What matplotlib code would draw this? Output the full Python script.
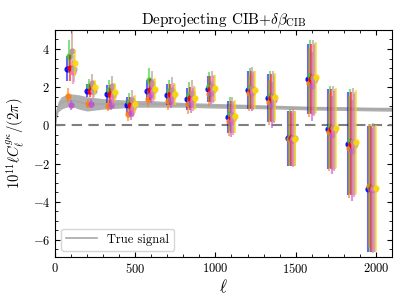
import numpy as np
import matplotlib
matplotlib.use("Agg")
import matplotlib.pyplot as plt
from matplotlib.ticker import MultipleLocator

plt.rcParams['font.family'] = 'serif'
plt.rcParams['font.serif'] = ['cmr10']
plt.rcParams['mathtext.fontset'] = 'cm'
plt.rcParams['axes.formatter.use_mathtext'] = True
plt.rcParams['xtick.direction'] = 'in'
plt.rcParams['ytick.direction'] = 'in'
plt.rcParams['xtick.top'] = True
plt.rcParams['ytick.right'] = True

# bin centres of the band powers
ell_bins = [100, 225, 350, 475, 600, 725, 850, 975, 1100, 1225, 1350, 1475, 1600, 1725, 1850, 1975]

# band powers for each estimator (10^11 ell C_ell / 2pi)
cl_blue   = [2.97, 1.82, 1.64, 1.05, 1.82, 1.61, 1.38, 1.91, 0.43, 1.87, 1.43, -0.68, 2.43, -0.19, -0.96, -3.33]
cl_orange = [1.55, 1.14, 1.03, 0.58, 1.40, 1.26, 1.12, 1.64, 0.25, 1.70, 1.20, -0.70, 2.22, -0.33, -1.18, -3.19]
cl_green  = [3.61, 2.04, 1.87, 1.23, 2.39, 1.78, 1.61, 2.04, 0.61, 1.96, 1.55, -0.62, 2.57, -0.07, -0.84, -3.26]
cl_red    = [3.00, 1.82, 1.64, 1.05, 1.87, 1.64, 1.43, 1.91, 0.43, 1.87, 1.43, -0.68, 2.43, -0.19, -0.96, -3.33]
cl_purple = [1.06, 1.14, 1.08, 0.65, 1.61, 1.35, 1.17, 1.70, 0.19, 1.70, 1.08, -0.75, 2.04, -0.49, -1.32, -3.37]
cl_brown  = [3.91, 2.22, 2.04, 1.35, 2.22, 1.87, 1.70, 2.04, 0.56, 1.96, 1.52, -0.64, 2.50, -0.12, -0.85, -3.26]
cl_pink   = [2.77, 1.78, 1.52, 0.91, 1.78, 1.55, 1.35, 1.87, 0.35, 1.82, 1.35, -0.70, 2.34, -0.28, -1.06, -3.31]
cl_gray   = [2.97, 1.82, 1.70, 1.08, 1.87, 1.66, 1.45, 1.92, 0.45, 1.87, 1.45, -0.68, 2.45, -0.17, -0.96, -3.31]
cl_yellow = [3.26, 1.99, 1.75, 1.12, 1.92, 1.64, 1.43, 1.96, 0.47, 1.87, 1.49, -0.70, 2.51, -0.14, -0.87, -3.26]

# 1-sigma errors
err_blue   = [0.65, 0.35, 0.45, 0.45, 0.55, 0.55, 0.60, 0.70, 0.85, 1.00, 1.25, 1.45, 1.85, 2.10, 2.70, 3.30]
err_orange = [0.40, 0.25, 0.30, 0.35, 0.45, 0.45, 0.50, 0.60, 0.80, 0.95, 1.20, 1.40, 1.80, 2.05, 2.65, 3.25]
err_green  = [0.85, 0.40, 0.50, 0.45, 0.60, 0.60, 0.65, 0.75, 0.90, 1.05, 1.30, 1.50, 1.90, 2.15, 2.75, 3.35]
err_red    = [0.70, 0.35, 0.45, 0.45, 0.55, 0.55, 0.60, 0.70, 0.85, 1.00, 1.25, 1.45, 1.85, 2.10, 2.70, 3.30]
err_purple = [0.25, 0.25, 0.30, 0.35, 0.45, 0.45, 0.50, 0.60, 0.80, 0.95, 1.20, 1.40, 1.80, 2.05, 2.65, 3.25]
err_brown  = [1.10, 0.45, 0.55, 0.50, 0.65, 0.65, 0.70, 0.80, 0.95, 1.10, 1.35, 1.55, 1.95, 2.20, 2.80, 3.40]
err_pink   = [0.60, 0.35, 0.45, 0.45, 0.55, 0.55, 0.60, 0.70, 0.85, 1.00, 1.25, 1.45, 1.85, 2.10, 2.70, 3.30]
err_gray   = [0.70, 0.35, 0.45, 0.45, 0.55, 0.55, 0.60, 0.70, 0.85, 1.00, 1.25, 1.45, 1.85, 2.10, 2.70, 3.30]
err_yellow = [0.70, 0.40, 0.45, 0.45, 0.55, 0.55, 0.60, 0.70, 0.85, 1.00, 1.25, 1.45, 1.85, 2.10, 2.70, 3.30]

# true signal envelope
true_ell = [2, 10, 20, 40, 70, 100, 150, 200, 250, 300, 400, 500, 600, 700, 800, 1000, 1200, 1400, 1600, 1800, 2000, 2100]
true_lo  = [0.00, 0.35, 0.70, 0.85, 0.95, 1.00, 0.85, 0.75, 0.80, 0.85, 0.90, 0.95, 0.95, 0.95, 0.95, 0.90, 0.88, 0.85, 0.80, 0.78, 0.75, 0.74]
true_hi  = [0.10, 0.90, 1.25, 1.50, 1.60, 1.65, 1.60, 1.50, 1.45, 1.40, 1.35, 1.30, 1.30, 1.25, 1.20, 1.15, 1.10, 1.05, 1.00, 0.98, 0.95, 0.95]
true_mid = [0.05, 0.62, 0.98, 1.18, 1.28, 1.32, 1.22, 1.12, 1.12, 1.12, 1.12, 1.12, 1.12, 1.10, 1.07, 1.02, 0.99, 0.95, 0.90, 0.88, 0.85, 0.84]

series = [cl_blue, cl_orange, cl_green, cl_red, cl_purple, cl_brown, cl_pink, cl_gray, cl_yellow]
errors = [err_blue, err_orange, err_green, err_red, err_purple, err_brown, err_pink, err_gray, err_yellow]
colors = ['blue', 'tab:orange', 'limegreen', 'red', 'mediumorchid', 'rosybrown', 'hotpink', 'darkgray', 'gold']
offsets = np.arange(len(series)) * 6.0 - 24.0

fig = plt.figure(figsize=(4.07, 3.05), dpi=100)
ax = fig.add_axes([0.135, 0.157, 0.828, 0.745])

ax.fill_between(true_ell, true_lo, true_hi, color='#b0b0b0', lw=0)
ax.plot(true_ell, true_mid, color='#a8a8a8', lw=1.2, label='True signal')
ax.axhline(0, color='gray', ls='--', lw=1.5, dashes=(5, 3))

for cl, err, col, off in zip(series, errors, colors, offsets):
    x = np.array(ell_bins) + off
    ax.errorbar(x, cl, yerr=err, fmt='none', ecolor=col,
                elinewidth=1.5, capsize=0, alpha=0.6)
    ax.plot(x, cl, 'o', color=col, ms=3.5, alpha=0.85)

ax.set_xlim(0, 2100)
ax.set_ylim(-6.9, 5)
ax.xaxis.set_major_locator(MultipleLocator(500))
ax.xaxis.set_minor_locator(MultipleLocator(100))
ax.yaxis.set_major_locator(MultipleLocator(2))
ax.yaxis.set_minor_locator(MultipleLocator(0.5))
ax.tick_params(labelsize=9)
ax.tick_params(which='minor', length=2)
ax.tick_params(which='major', length=3.5)

ax.set_title(r'Deprojecting CIB+$\delta\beta_{\rm CIB}$', fontsize=11, pad=4)
ax.set_xlabel(r'$\ell$', fontsize=12, labelpad=1)
ax.set_ylabel(r'$10^{11}\ell C_\ell^{g\kappa}/(2\pi)$', fontsize=10.5, labelpad=4)
ax.legend(loc='lower left', fontsize=9, handlelength=2.5)

fig.savefig('out.png', dpi=100)
